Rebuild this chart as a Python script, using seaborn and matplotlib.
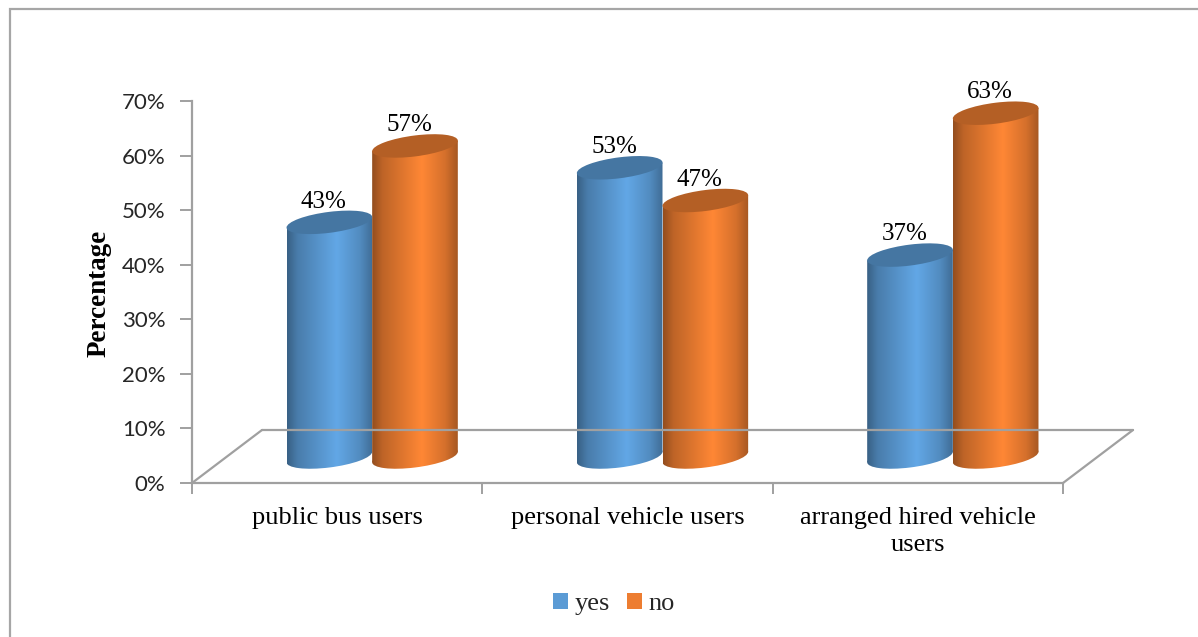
import numpy as np
import pandas as pd
import matplotlib
matplotlib.use("Agg")
import matplotlib.pyplot as plt
import matplotlib.transforms as mtransforms
from matplotlib.patches import Ellipse, Polygon, Rectangle, Patch
from matplotlib.lines import Line2D
from matplotlib.colors import LinearSegmentedColormap, to_rgb
import seaborn as sns

# ---- data -------------------------------------------------------------
groups = ["public bus users", "personal vehicle users", "arranged hired vehicle\nusers"]
answers = ["yes", "no"]
yes_pct = [43, 53, 37]
no_pct = [57, 47, 63]
y_ticks = [0, 10, 20, 30, 40, 50, 60, 70]
y_tick_labels = [f"{v}%" for v in y_ticks]
palette = {"yes": "#5B9BD5", "no": "#ED7D31"}

df = pd.DataFrame({
    "group": groups * 2,
    "answer": ["yes"] * len(groups) + ["no"] * len(groups),
    "pct": yes_pct + no_pct,
})

# ---- style ------------------------------------------------------------
sns.set_theme(style="white")
plt.rcParams["font.family"] = ["Liberation Serif", "DejaVu Sans"]
GRID = "#A0A0A0"

W, H = 1198, 637
fig = plt.figure(figsize=(W / 100, H / 100), dpi=100)


def box(x0, y0, x1, y1):
    """pixel box (origin top-left) -> figure fraction rect"""
    return [x0 / W, 1 - y1 / H, (x1 - x0) / W, (y1 - y0) / H]


# chart-area frame
fig.patches.append(Rectangle((10 / W, -0.01), 1.2, 1 - 9 / H + 0.01,
                             transform=fig.transFigure, fill=False,
                             edgecolor="#A6A6A6", linewidth=1.6))

# front plane: value axis and floor edge
PLOT_L, PLOT_T, PLOT_R, PLOT_B = 192, 101, 1063, 483
ax = fig.add_axes(box(PLOT_L, PLOT_T, PLOT_R, PLOT_B))
ax.set_facecolor("none")
ax.set_xlim(-0.5, len(groups) - 0.5)
ax.set_ylim(0, 70)
ax.set_yticks(y_ticks)
ax.set_yticklabels(y_tick_labels, family="Lato", fontsize=16, color="#262626")
ax.set_xticks(range(len(groups)))
ax.set_xticklabels(groups, fontsize=19, color="black", linespacing=1.3)
ax.set_xticks(np.arange(-0.5, len(groups)), minor=True)
ax.tick_params(axis="y", which="major", direction="out", length=9, width=1.4,
               color=GRID, pad=10, left=True)
ax.tick_params(axis="x", which="major", length=0, pad=17, bottom=True)
ax.tick_params(axis="x", which="minor", direction="out", length=8, width=1.4,
               color=GRID, bottom=True)
for side in ("top", "right"):
    ax.spines[side].set_visible(False)
for side in ("left", "bottom"):
    ax.spines[side].set_color(GRID)
    ax.spines[side].set_linewidth(1.6)
ax.set_ylabel("Percentage", fontsize=19.5, fontweight="bold", color="black")
ax.yaxis.set_label_coords(-0.092, 0.497)

# floor of the 3D box: diagonals to the back corners and the back edge
back = mtransforms.ScaledTranslation(0.70, 0.53, fig.dpi_scale_trans)
for x in (0.0, 1.0):
    p0 = ax.transAxes.transform((x, 0))
    p1 = (ax.transAxes + back).transform((x, 0))
    fig.add_artist(Line2D([p0[0], p1[0]], [p0[1], p1[1]], transform=None,
                          color=GRID, linewidth=1.6))
fig.add_artist(Line2D([0, 1], [0, 0], transform=ax.transAxes + back,
                      color=GRID, linewidth=1.6))

# bars sit half-way into the depth of the box; the bar axes reaches a little
# below zero so the rounded bottoms of the cylinders are not cut off
DX, DY = 35, 26
Y_LO = -6
px_per_unit = (PLOT_B - PLOT_T) / 70
bx = fig.add_axes(box(PLOT_L + DX, PLOT_T - DY, PLOT_R + DX,
                      PLOT_B - DY - Y_LO * px_per_unit))
bx.set_facecolor("none")
sns.barplot(data=df, x="group", y="pct", hue="answer", hue_order=answers,
            palette=palette, width=0.59, ax=bx, legend=False)
bx.set_xlim(-0.5, len(groups) - 0.5)
bx.set_ylim(Y_LO, 70)
bx.axis("off")


def shade(color, f):
    c = np.array(to_rgb(color))
    return tuple(np.clip(c * f, 0, 1))


def cylinder_cmap(color):
    stops = [(0.0, 0.62), (0.12, 0.80), (0.58, 1.08), (0.85, 0.90), (1.0, 0.70)]
    return LinearSegmentedColormap.from_list(
        "cyl", [(p, shade(color, f)) for p, f in stops])


TILT = 7.0      # degrees, slant of the end caps
CAP_H = 21.0    # px, height of the end ellipses
tan_t = np.tan(np.radians(TILT))
grad = np.linspace(0, 1, 256)[None, :]

hue_cycle = [a for a in answers for _ in groups]
for patch, answer in zip(list(bx.patches), hue_cycle):
    color = palette[answer]
    x0 = patch.get_x()
    x1 = x0 + patch.get_width()
    h = patch.get_height()
    patch.set_visible(False)

    X0, Yb = bx.transData.transform((x0, 0))
    X1, Yt = bx.transData.transform((x1, h))
    w = X1 - X0
    Xc = (X0 + X1) / 2
    s = w / 2 * tan_t

    body = Polygon([(X0, Yt - s), (X0, Yb - s), (X1, Yb + s), (X1, Yt + s)],
                   closed=True, transform=mtransforms.IdentityTransform())

    def cap_tr(y):
        return (mtransforms.Affine2D().scale(w, CAP_H)
                .skew_deg(0, TILT).translate(Xc, y))

    bottom = Ellipse((0, 0), 1, 1, transform=cap_tr(Yb))

    for clip in (body, bottom):
        im = bx.imshow(grad, extent=[x0, x1, Y_LO, h + 6], aspect="auto",
                       cmap=cylinder_cmap(color), interpolation="bilinear",
                       zorder=2)
        im.set_clip_path(clip)

    top = Ellipse((0, 0), 1, 1, transform=cap_tr(Yt),
                  facecolor=shade(color, 0.76), edgecolor="none", zorder=3)
    fig.add_artist(top)

    bx.annotate(f"{h:.0f}%", (0.5 * (x0 + x1), h), xytext=(-4, 15),
                textcoords="offset points", ha="center", va="center",
                fontsize=18, color="black", zorder=4)

bx.set_xlim(-0.5, len(groups) - 0.5)
bx.set_ylim(Y_LO, 70)

# legend
handles = [Patch(facecolor=palette[a], edgecolor="none", label=a) for a in answers]
fig.legend(handles=handles, loc="center", bbox_to_anchor=(614 / W, 1 - 604 / H),
           ncol=2, frameon=False, fontsize=19, handlelength=0.55,
           handleheight=0.55, handletextpad=0.25, columnspacing=0.65)

fig.savefig("out.png", dpi=100)
